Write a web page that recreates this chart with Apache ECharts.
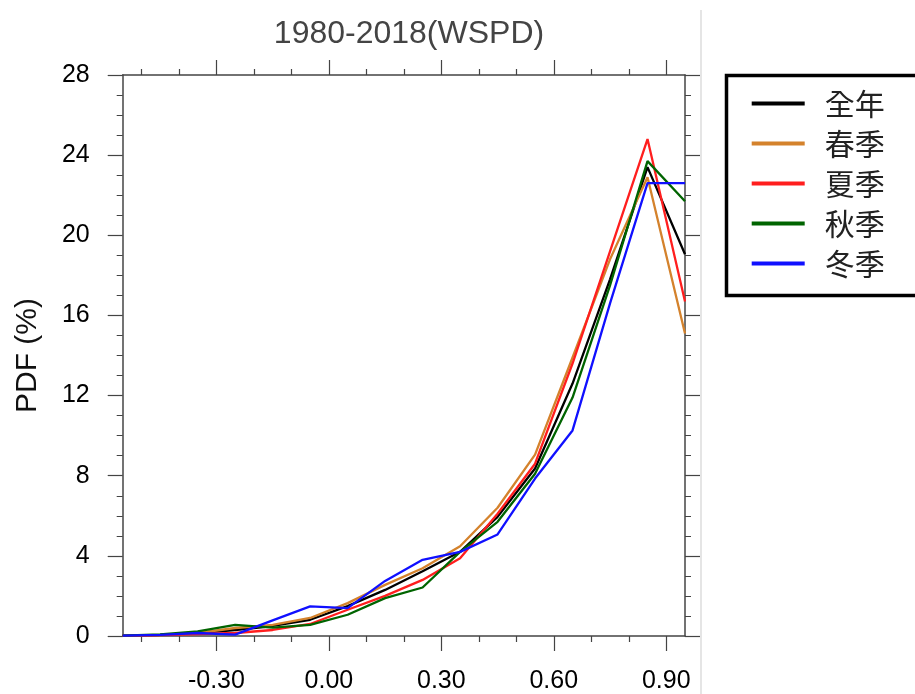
<!DOCTYPE html>
<html>
<head>
<meta charset="utf-8">
<script src="https://cdn.jsdelivr.net/npm/echarts@6/dist/echarts.min.js"></script>
<style>
html,body{margin:0;padding:0;background:#fff;}
#chart{width:915px;height:694px;}
</style>
</head>
<body>
<div id="chart"></div>
<script>
// ---- data ----
const titleText = '1980-2018(WSPD)';
const yAxisName = 'PDF (%)';
const xBins = [-0.55,-0.45,-0.35,-0.25,-0.15,-0.05,0.05,0.15,0.25,0.35,0.45,0.55,0.65,0.75,0.85,0.95];
const seriesNames = ['全年','春季','夏季','秋季','冬季'];
const annual = [0.02,0.06,0.15,0.30,0.50,0.81,1.49,2.30,3.23,4.20,5.95,8.36,12.6,17.8,23.4,19.05];
const spring = [0.02,0.06,0.15,0.40,0.55,0.90,1.64,2.55,3.38,4.48,6.40,9.05,13.9,18.8,22.9,15.1];
const summer = [0.01,0.04,0.10,0.15,0.30,0.60,1.31,2.00,2.80,3.88,6.10,8.60,13.6,19.2,24.8,16.7];
const autumn = [0.02,0.08,0.23,0.56,0.42,0.56,1.06,1.89,2.42,4.20,5.70,8.10,11.9,17.5,23.7,21.7];
const winter = [0.02,0.06,0.15,0.07,0.78,1.48,1.39,2.75,3.80,4.20,5.07,7.86,10.26,16.6,22.6,22.6];
const xMajorTicks = [-0.3,0,0.3,0.6,0.9];
const xMinorTicks = [-0.5,-0.4,-0.2,-0.1,0.1,0.2,0.4,0.5,0.7,0.8];
const colors = ['#000000','#d4822c','#ff1e1e','#006400','#1010ff'];

const allSeries = [annual, spring, summer, autumn, winter];
const FONT = '"Liberation Sans", Arial, sans-serif';
const axisColor = '#444';

function xAxisCfg(pos, ticks, len, showLine, showLabel){
  return {
    type:'value', position:pos, min:-0.55, max:0.95,
    axisLine:{show:showLine, onZero:false, lineStyle:{color:axisColor,width:1.5}},
    axisTick:{show:true, customValues:ticks, length:len, inside:false, lineStyle:{color:axisColor,width:1.2}},
    axisLabel:{show:showLabel, customValues:ticks, formatter:v=>v.toFixed(2), fontSize:25, color:'#000', fontFamily:FONT, margin:33},
    splitLine:{show:false}
  };
}
function yAxisCfg(pos, showLabel){
  return {
    type:'value', position:pos, min:0, max:28, interval:4,
    axisLine:{show:true, onZero:false, lineStyle:{color:axisColor,width:1.5}},
    axisTick:{show:true, length:15, inside:false, lineStyle:{color:axisColor,width:1.2}},
    minorTick:{show:true, splitNumber:4, length:6, lineStyle:{color:axisColor,width:1}},
    axisLabel:{show:showLabel, fontSize:25, color:'#000', fontFamily:FONT, margin:33},
    splitLine:{show:false}, minorSplitLine:{show:false},
    name: showLabel ? yAxisName : '',
    nameLocation:'middle', nameRotate:90, nameGap:80,
    nameTextStyle:{fontSize:30, color:'#111', fontFamily:FONT}
  };
}

const chart = echarts.init(document.getElementById('chart'), null, {renderer:'canvas'});
chart.setOption({
  backgroundColor:'#ffffff',
  animation:false,
  title:{text:titleText, left:404, top:13, textAlign:'center',
    textStyle:{fontSize:32, fontWeight:'normal', color:'#444', fontFamily:FONT}},
  grid:{left:122.7, right:230, top:75, bottom:56, containLabel:false},
  xAxis:[
    xAxisCfg('bottom', xMajorTicks, 15, true, true),
    xAxisCfg('bottom', xMinorTicks, 6, false, false),
    xAxisCfg('top', xMajorTicks, 15, true, false),
    xAxisCfg('top', xMinorTicks, 6, false, false)
  ],
  yAxis:[ yAxisCfg('left', true), yAxisCfg('right', false) ],
  legend:{
    orient:'vertical', left:746.7, top:78.5, itemGap:0,
    itemWidth:53, itemHeight:4, icon:'rect',
    textStyle:{fontSize:30, color:'#222', lineHeight:40, fontFamily:'"Noto Sans CJK TC", "Noto Sans CJK SC", sans-serif', padding:[0,0,0,15]},
    data:seriesNames
  },
  graphic:[
    {type:'rect', shape:{x:726.5, y:75.5, width:220, height:220}, style:{fill:'none', stroke:'#000', lineWidth:3.5}, z:10},
    {type:'line', shape:{x1:701, y1:10, x2:701, y2:694}, style:{stroke:'#dcdcdc', lineWidth:1.5}}
  ],
  series: seriesNames.map((n,i)=>({
    name:n, type:'line', xAxisIndex:0, yAxisIndex:0,
    data: xBins.map((x,j)=>[x, allSeries[i][j]]),
    showSymbol:false, symbol:'none', smooth:false,
    lineStyle:{color:colors[i], width:2.3},
    itemStyle:{color:colors[i]},
    clip:true
  }))
});
</script>
</body>
</html>
